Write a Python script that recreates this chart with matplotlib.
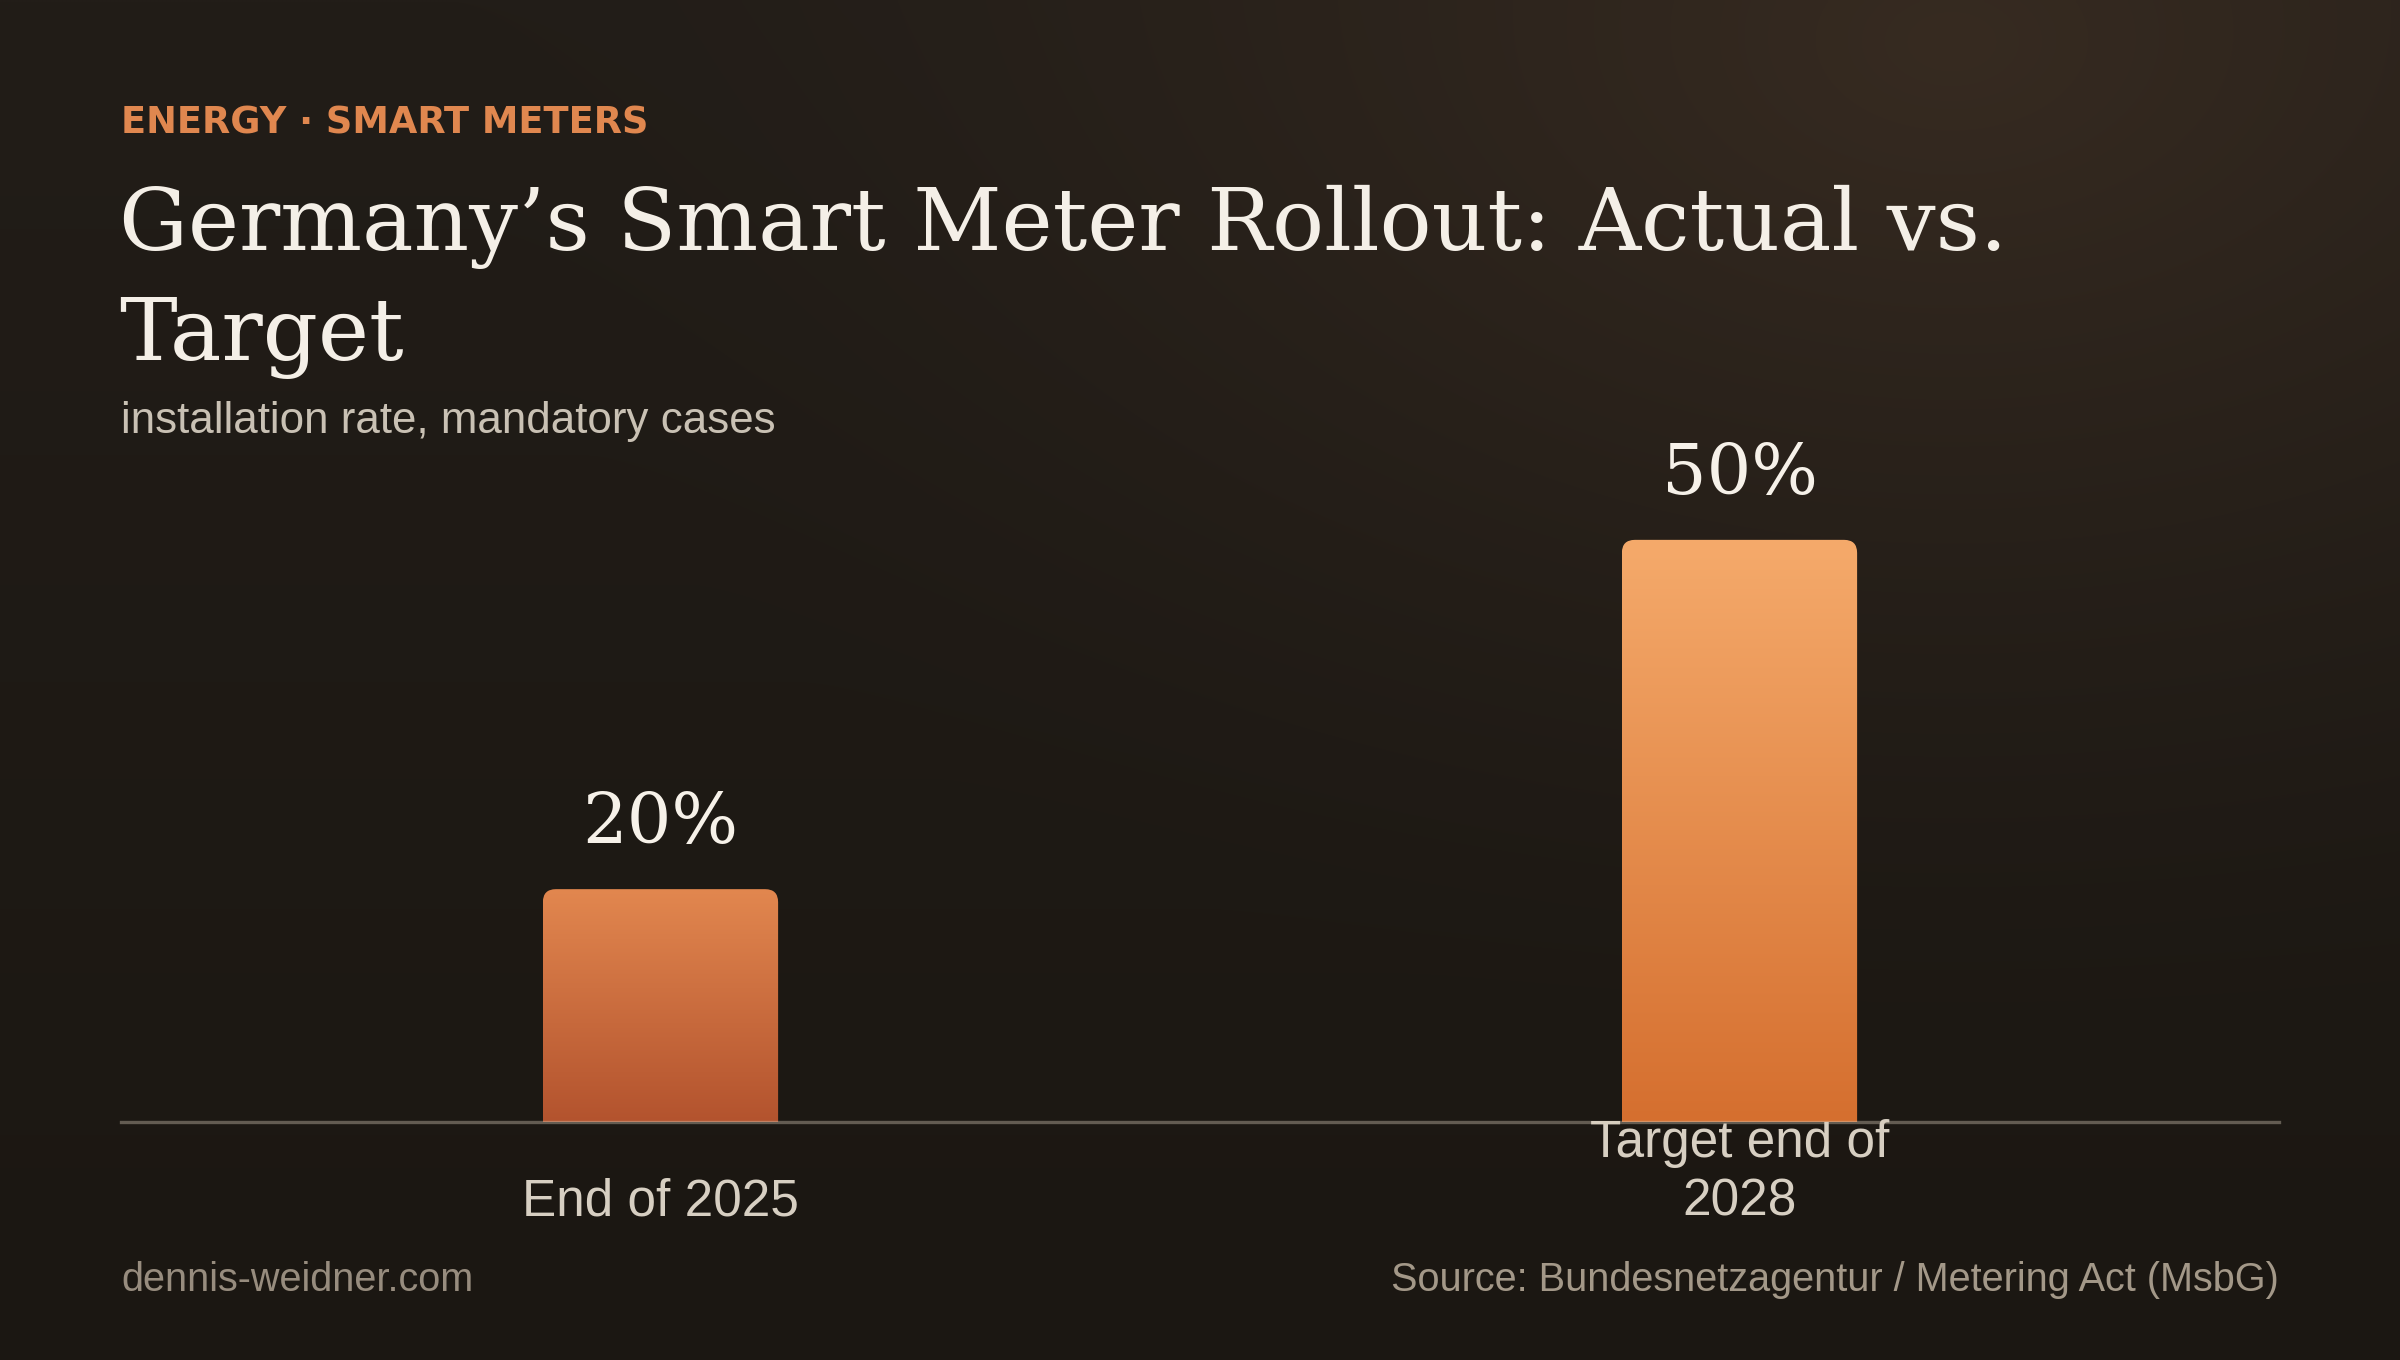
import numpy as np
import matplotlib
matplotlib.use("Agg")
import matplotlib.pyplot as plt
from matplotlib.patches import FancyBboxPatch
from matplotlib.font_manager import FontProperties
from matplotlib.colors import to_rgb

# ---------------- data ----------------
categories = ["End of 2025", "Target end of\n2028"]
values = [20, 50]
value_labels = ["20%", "50%"]

kicker = "ENERGY · SMART METERS"
title = "Germany’s Smart Meter Rollout: Actual vs.\nTarget"
subtitle = "installation rate, mandatory cases"
footer_left = "dennis-weidner.com"
footer_right = "Source: Bundesnetzagentur / Metering Act (MsbG)"

# ---------------- style ----------------
bar_top_colors = ["#e2874f", "#f5aa6b"]
bar_bottom_colors = ["#b3532e", "#d56f2f"]
W, H, DPI = 2400, 1360, 100

SERIF = "DejaVu Serif"
SANS = "Liberation Sans"

fig = plt.figure(figsize=(W / DPI, H / DPI), dpi=DPI)
fig.patch.set_facecolor("#1d1914")
renderer = fig.canvas.get_renderer()


def px_to_fig(x, y):
    return x / W, 1 - y / H


def fit_size(s, target_px, family, weight="normal", size0=40.0):
    fp = FontProperties(family=family, weight=weight, size=size0)
    w, h, d = renderer.get_text_width_height_descent(s, fp, ismath=False)
    return size0 * target_px / w


def tune_linespacing(txt, target_dy_px, ls=1.2):
    """Adjust linespacing so that consecutive baselines are target_dy_px apart."""
    txt.set_linespacing(ls)
    for _ in range(3):
        _, info, _ = txt._get_layout(renderer)
        dy = abs(info[0][3] - info[1][3])
        ls = ls * target_dy_px / dy
        txt.set_linespacing(ls)


# ---------------- background ----------------
bg = fig.add_axes([0, 0, 1, 1], zorder=-10)
yy, xx = np.mgrid[0:H:4, 0:W:4].astype(float)
top_c = np.array(to_rgb("#221d18"))
bot_c = np.array(to_rgb("#1b1712"))
lin = (yy / H)[..., None]
base = top_c * (1 - lin) + bot_c * lin
d = np.hypot((xx - 1950) / 1500.0, (yy - 40) / 1000.0)
t = np.clip(1 - d, 0, 1) ** 1.6
glow = np.array(to_rgb("#372b21"))
img = base + (glow - base) * t[..., None]
bg.imshow(img, extent=[0, W, H, 0], aspect="auto", interpolation="bilinear")
bg.set_xlim(0, W)
bg.set_ylim(H, 0)
bg.axis("off")

# ---------------- main axes ----------------
base_px = 1122
ax_left, ax_right = 121, 2279
ax_top = 470
ax = fig.add_axes([ax_left / W, (H - base_px) / H, (ax_right - ax_left) / W, (base_px - ax_top) / H])
ax.set_facecolor("none")
xlim = (-0.5, len(categories) - 0.5)
ylim = (0, 56)
ax.set_xlim(*xlim)
ax.set_ylim(*ylim)
for s in ax.spines.values():
    s.set_visible(False)

xpos = np.arange(len(categories))
bars = ax.bar(xpos, values, width=0.218, color="none", edgecolor="none")

# pixel per data unit
ppx = (ax_right - ax_left) / (xlim[1] - xlim[0])
ppy = (base_px - ax_top) / (ylim[1] - ylim[0])
radius_px = 13
r_x = radius_px / ppx
aspect = ppx / ppy

for i, rect in enumerate(bars):
    x0, w, h = rect.get_x(), rect.get_width(), rect.get_height()
    r_y = r_x * aspect
    clip = FancyBboxPatch((x0, -2 * r_y), w, h + 2 * r_y,
                          boxstyle=f"round,pad=0,rounding_size={r_x}",
                          mutation_aspect=aspect, transform=ax.transData,
                          facecolor="none", edgecolor="none")
    ax.add_patch(clip)
    c1 = np.array(to_rgb(bar_top_colors[i]))
    c2 = np.array(to_rgb(bar_bottom_colors[i]))
    tt = np.linspace(0, 1, 256)[:, None, None]
    grad = c1 * (1 - tt) + c2 * tt
    im = ax.imshow(grad, extent=[x0, x0 + w, 0, h], origin="upper",
                   aspect="auto", interpolation="bilinear", zorder=2)
    im.set_clip_path(clip)

ax.set_xlim(*xlim)
ax.set_ylim(*ylim)

# axis baseline
ax.axhline(0, color="#d8cdbb", alpha=0.38, lw=2.4, zorder=5, clip_on=False)

# value labels
val_size = fit_size(value_labels[0], 156, SERIF)
for i, (v, lab) in enumerate(zip(values, value_labels)):
    ax.annotate(lab, xy=(xpos[i], v), xytext=(0, 33), textcoords="offset points",
                ha="center", va="baseline", fontsize=val_size, family=SERIF,
                color="#f6f1e9", zorder=6)

# category tick labels
tick_size = fit_size("End of 2025", 276, SANS)
fp_tick = FontProperties(family=SANS, size=tick_size)
_, lh, ld = renderer.get_text_width_height_descent("lp", fp_tick, ismath=False)
pad_px = (1215 - base_px) + ld
ax.set_yticks([])
ax.tick_params(axis="x", length=0, pad=pad_px * 72.0 / DPI)
ax.set_xticks(xpos)
ax.set_xticklabels(categories, fontsize=tick_size, family=SANS, color="#d7cfc2")
for lab in ax.get_xticklabels():
    lab.set_va("bottom")
    if "\n" in lab.get_text():
        tune_linespacing(lab, 58.0)

# ---------------- header texts ----------------
k_size = fit_size(kicker, 528, "DejaVu Sans", weight="bold")
fig.text(*px_to_fig(121, 133), kicker, fontsize=k_size, family="DejaVu Sans",
         weight="bold", color="#e0874f", ha="left", va="baseline")

t_size = fit_size(title.split("\n")[0], 1886, SERIF)
title_txt = fig.text(*px_to_fig(119, 360), title, fontsize=t_size, family=SERIF,
                     color="#f4efe7", ha="left", va="baseline")
tune_linespacing(title_txt, 110.0)

s_size = fit_size(subtitle, 654, SANS)
fig.text(*px_to_fig(121, 433), subtitle, fontsize=s_size, family=SANS,
         color="#c9c1b4", ha="left", va="baseline")

# ---------------- footer ----------------
f_size = fit_size(footer_left, 353, SANS)
fig.text(*px_to_fig(121, 1291), footer_left, fontsize=f_size, family=SANS,
         color="#978c7e", ha="left", va="baseline")
fig.text(*px_to_fig(2279, 1291), footer_right, fontsize=f_size, family=SANS,
         color="#a39888", ha="right", va="baseline")

fig.savefig("out.png", dpi=DPI, facecolor=fig.get_facecolor())
